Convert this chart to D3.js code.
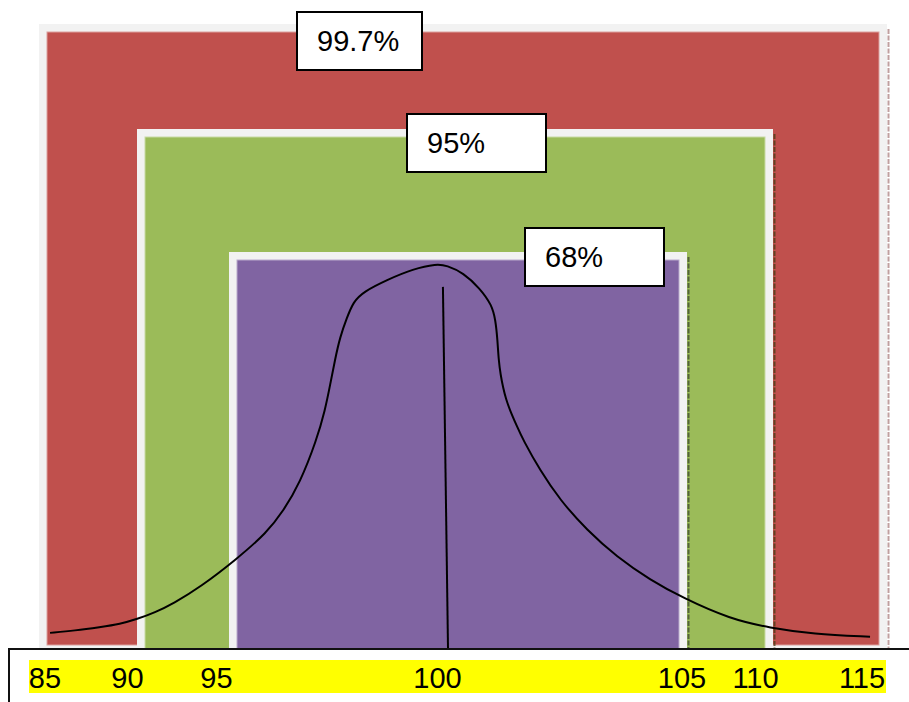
<!DOCTYPE html>
<html><head><meta charset="utf-8">
<script src="https://cdn.jsdelivr.net/npm/d3@7"></script>
<style>body{margin:0;background:#fff;} svg{display:block;font-family:"Liberation Sans",Arial,sans-serif;}</style>
</head><body><svg id="c" width="909" height="702"></svg>
<script>
// ---- data ----
const ticks = [85, 90, 95, 100, 105, 110, 115];
const tickLabels = ["85", "90", "95", "100", "105", "110", "115"];
const bandNames = ["99.7%", "95%", "68%"];
const bandLow = [85, 90, 95];
const bandHigh = [115, 110, 105];
const bandColors = ["#C0504D", "#9BBB59", "#8064A2"];
// hand-drawn bell curve: value (x) and relative height (0..1)
const curveX = [85.39, 86.27, 87.16, 87.87, 88.47, 89.10, 89.75, 90.70, 91.99, 93.06, 93.64, 94.23, 94.82, 95.12, 95.30, 95.47, 95.65, 95.89, 96.12, 96.47, 97.30, 98.24, 99.07, 99.42, 100.01, 100.60, 101.02, 101.15, 101.22, 101.26, 101.33, 101.42, 101.52, 101.66, 101.89, 102.13, 102.72, 103.43, 104.38, 105.44, 106.62, 107.78, 109.45, 110.86, 112.38, 114.40];
const curveY = [0.042, 0.048, 0.057, 0.065, 0.078, 0.095, 0.1185, 0.161, 0.234, 0.303, 0.359, 0.432, 0.544, 0.622, 0.688, 0.753, 0.8125, 0.862, 0.904, 0.930, 0.961, 0.990, 1.003, 0.999, 0.980, 0.939, 0.896, 0.857, 0.805, 0.753, 0.714, 0.680, 0.651, 0.622, 0.583, 0.544, 0.466, 0.388, 0.310, 0.240, 0.180, 0.133, 0.078, 0.055, 0.039, 0.032];
const meanX = [99.29, 99.47];
const meanY = [0.943, 0];

// ---- layout ----
const svg = d3.select("#c");
const bottom = 649;
const edgeX = d3.scaleLinear().domain([85, 90, 95, 105, 110, 115]).range([39, 137, 229, 687, 773, 887]);
const labelX = d3.scaleLinear().domain(ticks).range([45, 127.5, 216.5, 437.5, 682, 755.5, 862]);
const levelY = d3.scaleLinear().domain([0, 1, 2]).range([24, 129, 252]);
const cx = d3.scaleLinear().domain([85, 115]).range([39, 887]);
const cy = d3.scaleLinear().domain([0, 1]).range([bottom, 265]);

const shadowCols = ["rgba(140,80,80,0.55)", "rgba(70,60,20,0.75)", "rgba(60,70,50,0.75)"];
bandNames.forEach((name, i) => {
  const x0 = edgeX(bandLow[i]), x1 = edgeX(bandHigh[i]), y0 = levelY(i);
  const g = svg.append("g");
  g.append("rect").attr("x", x0).attr("y", y0).attr("width", x1 - x0).attr("height", bottom - y0).attr("fill", "#F2F2F2");
  const bInset = i === 0 ? 4 : 0;
  g.append("rect").attr("x", x0 + 8).attr("y", y0 + 8).attr("width", x1 - x0 - 16).attr("height", bottom - y0 - 8 - bInset)
    .attr("fill", bandColors[i]).attr("stroke", d3.interpolateRgb(bandColors[i], "#fff")(0.45)).attr("stroke-width", 1);
  g.append("line").attr("x1", x1 + 1.5).attr("x2", x1 + 1.5).attr("y1", y0 + 5).attr("y2", bottom)
    .attr("stroke", shadowCols[i]).attr("stroke-width", 2).attr("stroke-dasharray", "5,1.5");
});

// curve
const pts = curveX.map((v, i) => [cx(v), cy(curveY[i])]);
svg.append("path").attr("d", d3.line().curve(d3.curveBasis)(pts))
  .attr("fill", "none").attr("stroke", "#000").attr("stroke-width", 2);
// mean line
svg.append("line").attr("x1", cx(meanX[0])).attr("y1", cy(meanY[0])).attr("x2", cx(meanX[1])).attr("y2", cy(meanY[1]))
  .attr("stroke", "#000").attr("stroke-width", 2);

// axis frame
svg.append("path").attr("d", `M9,702V${bottom}H909`).attr("fill", "none").attr("stroke", "#111").attr("stroke-width", 2);

// yellow band + tick labels
svg.append("rect").attr("x", labelX(85) - 16).attr("y", 660).attr("width", labelX(115) + 24 - (labelX(85) - 16)).attr("height", 33).attr("fill", "#FFFF00");
svg.append("g").selectAll("text").data(ticks).join("text")
  .attr("x", d => labelX(d)).attr("y", 688).attr("text-anchor", "middle")
  .attr("font-size", 29).attr("fill", "#000").text((d, i) => tickLabels[i]);

// label boxes
const boxLeft = [297, 407, 525], boxTop = [12, 114, 228], boxW = [125, 139, 139], boxH = 58;
bandNames.forEach((name, i) => {
  svg.append("rect").attr("x", boxLeft[i]).attr("y", boxTop[i]).attr("width", boxW[i]).attr("height", boxH)
    .attr("fill", "#fff").attr("stroke", "#000").attr("stroke-width", 2);
  svg.append("text").attr("x", boxLeft[i] + 20).attr("y", boxTop[i] + 39).attr("font-size", 29).attr("fill", "#000").text(name);
});
</script></body></html>
